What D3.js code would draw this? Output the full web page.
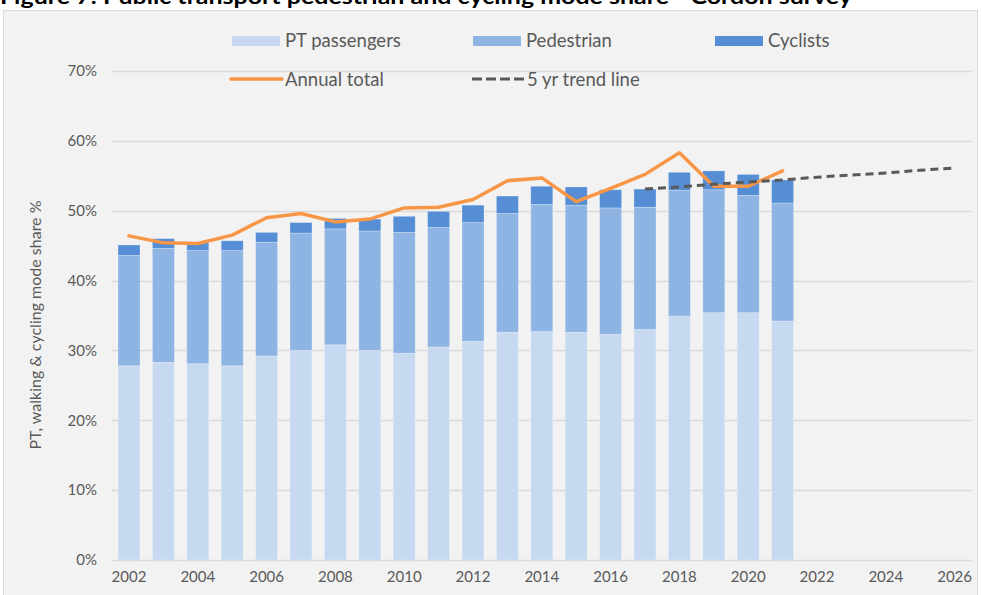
<!DOCTYPE html>
<html>
<head>
<meta charset="utf-8">
<script src="https://cdn.jsdelivr.net/npm/d3@7"></script>
<style>
  html, body { margin: 0; padding: 0; background: #ffffff; }
  svg { display: block; }
</style>
</head>
<body>
<svg id="chart" width="981" height="595"></svg>
<script>
// ---- Data ----
const categories = ["2002","2003","2004","2005","2006","2007","2008","2009","2010","2011","2012","2013","2014","2015","2016","2017","2018","2019","2020","2021","2022","2023","2024","2025","2026"];
const barYears = ["2002","2003","2004","2005","2006","2007","2008","2009","2010","2011","2012","2013","2014","2015","2016","2017","2018","2019","2020","2021"];
const ptPassengers = [27.8, 28.3, 28.1, 27.8, 29.2, 30.0, 30.8, 30.0, 29.6, 30.5, 31.3, 32.6, 32.7, 32.6, 32.3, 33.0, 34.9, 35.4, 35.4, 34.2];
const pedestrian   = [15.8, 16.3, 16.2, 16.5, 16.3, 16.8, 16.6, 17.1, 17.3, 17.1, 17.0, 17.0, 18.2, 18.2, 18.1, 17.5, 18.0, 17.6, 16.8, 16.9];
const cyclists     = [1.5, 1.4, 1.1, 1.4, 1.4, 1.5, 1.5, 1.7, 2.3, 2.3, 2.5, 2.5, 2.6, 2.6, 2.6, 2.6, 2.6, 2.7, 3.0, 3.3];
const annualTotal  = [46.4, 45.4, 45.3, 46.5, 49.0, 49.6, 48.4, 48.8, 50.4, 50.5, 51.6, 54.3, 54.7, 51.3, 53.2, 55.2, 58.3, 53.5, 53.5, 55.7];
const trendYears   = ["2017","2018","2019","2020","2021","2022","2023","2024","2025","2026"];
const trendValues  = [53.1, 53.4, 53.8, 54.1, 54.4, 54.8, 55.1, 55.4, 55.8, 56.1];
const xTickLabels  = ["2002","2004","2006","2008","2010","2012","2014","2016","2018","2020","2022","2024","2026"];
const yTicks       = [0, 10, 20, 30, 40, 50, 60, 70];
const seriesNames  = ["PT passengers", "Pedestrian", "Cyclists"];
const titleText = "Figure 7: Public transport pedestrian and cycling mode share - Cordon survey";
const yAxisTitle = "PT, walking & cycling mode share %";

// ---- Styles ----
const colors = { pt: "#c6d9f1", ped: "#8eb4e3", cyc: "#558ed5", total: "#f79646", trend: "#595959" };
const FONT = "Lato, 'Liberation Sans', sans-serif";
const textColor = "#595959";

const svg = d3.select("#chart");

// Title (cropped at top in the reference)
svg.append("text")
  .attr("x", 0).attr("y", 4)
  .attr("font-family", FONT).attr("font-weight", "bold")
  .attr("font-size", 21).attr("fill", "#000")
  .attr("textLength", 852).attr("lengthAdjust", "spacingAndGlyphs")
  .text(titleText);

// Chart frame
svg.append("rect")
  .attr("x", 3.5).attr("y", 10.5).attr("width", 974).attr("height", 600)
  .attr("fill", "#f2f2f2").attr("stroke", "#d9d9d9").attr("stroke-width", 1);

// Scales
const x = d3.scaleBand().domain(categories).range([111.8, 971.8]).paddingInner(0.36).paddingOuter(0.18);
const y = d3.scaleLinear().domain([0, 70]).range([560, 71]);
const cx = d => x(d) + x.bandwidth() / 2;

// Gridlines
svg.append("g").selectAll("line").data(yTicks).join("line")
  .attr("x1", 111.8).attr("x2", 971.8)
  .attr("y1", d => Math.round(y(d)) + 0.5).attr("y2", d => Math.round(y(d)) + 0.5)
  .attr("stroke", "#d9d9d9").attr("stroke-width", 1.3);

// Y tick labels
svg.append("g").selectAll("text").data(yTicks).join("text")
  .attr("x", 97).attr("y", d => y(d)).attr("dy", "0.35em")
  .attr("text-anchor", "end")
  .attr("font-family", FONT).attr("font-size", 15).attr("fill", textColor)
  .text(d => d + "%");

// X tick labels
svg.append("g").selectAll("text").data(xTickLabels).join("text")
  .attr("x", d => cx(d)).attr("y", 582)
  .attr("text-anchor", "middle")
  .attr("font-family", FONT).attr("font-size", 15).attr("fill", textColor)
  .text(d => d);

// Y axis title
svg.append("text")
  .attr("transform", "translate(41,325) rotate(-90)")
  .attr("text-anchor", "middle")
  .attr("font-family", FONT).attr("font-size", 16).attr("fill", textColor)
  .text(yAxisTitle);

// Stacked bars
const rows = barYears.map((yr, i) => ({ year: yr, pt: ptPassengers[i], ped: pedestrian[i], cyc: cyclists[i] }));
const stack = d3.stack().keys(["pt", "ped", "cyc"]);
const stacked = stack(rows);
const keyColor = { pt: colors.pt, ped: colors.ped, cyc: colors.cyc };

svg.append("g").selectAll("g").data(stacked).join("g")
  .attr("fill", d => keyColor[d.key])
  .selectAll("rect").data(d => d).join("rect")
  .attr("x", d => x(d.data.year))
  .attr("width", x.bandwidth())
  .attr("y", d => y(d[1]))
  .attr("height", d => y(d[0]) - y(d[1]))
  .attr("stroke", "#ffffff").attr("stroke-opacity", 0.35).attr("stroke-width", 0.75);

// Annual total line
const totalLine = d3.line().x((d, i) => cx(barYears[i])).y(d => y(d));
svg.append("path")
  .datum(annualTotal)
  .attr("d", totalLine)
  .attr("fill", "none").attr("stroke", colors.total)
  .attr("stroke-width", 3.5).attr("stroke-linejoin", "round").attr("stroke-linecap", "round");

// 5 yr trend line
const trendLine = d3.line().x((d, i) => cx(trendYears[i])).y(d => y(d));
svg.append("path")
  .datum(trendValues)
  .attr("d", trendLine)
  .attr("fill", "none").attr("stroke", colors.trend)
  .attr("stroke-width", 3).attr("stroke-dasharray", "8,5");

// Legend
const lg = svg.append("g").attr("font-family", FONT).attr("font-size", 18.5).attr("fill", textColor);
const legendRow1 = [
  { name: seriesNames[0], color: colors.pt, x: 232 },
  { name: seriesNames[1], color: colors.ped, x: 473 },
  { name: seriesNames[2], color: colors.cyc, x: 715 }
];
legendRow1.forEach(d => {
  lg.append("rect").attr("x", d.x).attr("y", 36).attr("width", 48).attr("height", 10).attr("fill", d.color);
  lg.append("text").attr("x", d.x + 53).attr("y", 47).text(d.name);
});
lg.append("line").attr("x1", 231).attr("x2", 282).attr("y1", 79).attr("y2", 79)
  .attr("stroke", colors.total).attr("stroke-width", 3.5).attr("stroke-linecap", "round");
lg.append("text").attr("x", 285).attr("y", 86).text("Annual total");
lg.append("line").attr("x1", 472).attr("x2", 524).attr("y1", 79).attr("y2", 79)
  .attr("stroke", colors.trend).attr("stroke-width", 3).attr("stroke-dasharray", "10,4");
lg.append("text").attr("x", 527).attr("y", 86).text("5 yr trend line");
</script>
</body>
</html>
